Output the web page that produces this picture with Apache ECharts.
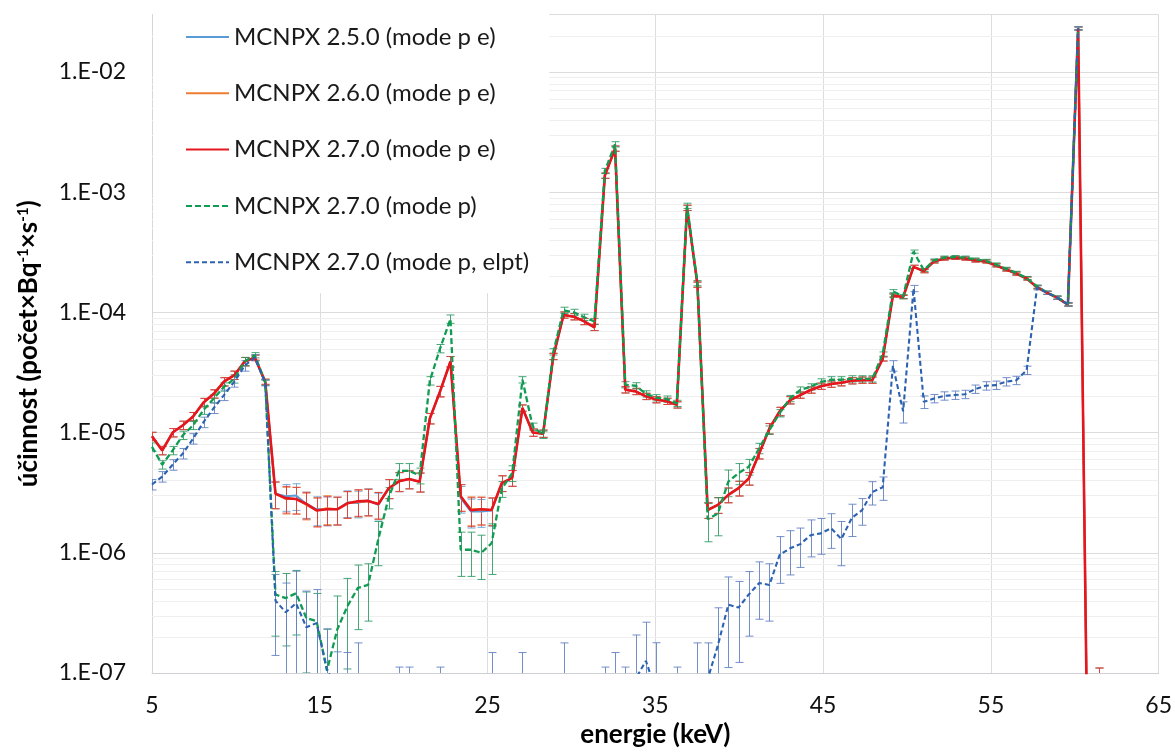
<!DOCTYPE html>
<html>
<head>
<meta charset="utf-8">
<script src="https://cdn.jsdelivr.net/npm/echarts@6/dist/echarts.min.js"></script>
<style>
  html, body { margin: 0; padding: 0; background: #ffffff; }
  #chart { width: 1175px; height: 753px; }
</style>
</head>
<body>
<div id="chart"></div>
<script>
// Photon energy of each tally bin (keV)
const energies = [
  5.00, 5.61, 6.23, 6.84, 7.45, 8.07, 8.68, 9.29, 9.91, 10.52,
  11.13, 11.75, 12.36, 12.97, 13.59, 14.20, 14.81, 15.43, 16.04, 16.65,
  17.27, 17.88, 18.49, 19.11, 19.72, 20.33, 20.95, 21.56, 22.17, 22.79,
  23.40, 24.01, 24.63, 25.24, 25.85, 26.47, 27.08, 27.69, 28.31, 28.92,
  29.53, 30.15, 30.76, 31.37, 31.99, 32.60, 33.21, 33.83, 34.44, 35.05,
  35.67, 36.28, 36.89, 37.51, 38.12, 38.73, 39.35, 39.96, 40.57, 41.19,
  41.80, 42.41, 43.03, 43.64, 44.25, 44.87, 45.48, 46.09, 46.71, 47.32,
  47.93, 48.55, 49.16, 49.77, 50.39, 51.00, 51.61, 52.23, 52.84, 53.45,
  54.07, 54.68, 55.29, 55.91, 56.52, 57.13, 57.75, 58.36, 58.97, 59.59,
  60.20, 60.81, 61.43
];

// Efficiency (counts per Bq per s) for each code version / mode
const mcnpx250pe = [
  9.3e-6, 7.1e-6, 1.0e-5, 1.15e-5, 1.36e-5, 1.78e-5, 2.1e-5, 2.65e-5, 3.0e-5, 3.9e-5,
  4.2e-5, 2.6e-5, 3.1e-6, 2.95e-6, 3.0e-6, 2.55e-6, 2.3e-6, 2.3e-6, 2.3e-6, 2.62e-6,
  2.6e-6, 2.72e-6, 2.5e-6, 3.44e-6, 3.93e-6, 4.1e-6, 3.9e-6, 1.31e-5, 2.2e-5, 3.9e-5,
  2.85e-6, 2.2e-6, 2.2e-6, 2.25e-6, 3.8e-6, 4.2e-6, 1.6e-5, 1.0e-5, 9.8e-6, 4.3e-5,
  9.5e-5, 9.2e-5, 8.4e-5, 7.5e-5, 1.37e-3, 2.3e-3, 2.27e-5, 2.2e-5, 2.0e-5, 1.88e-5,
  1.82e-5, 1.7e-5, 7.4e-4, 1.7e-4, 2.27e-6, 2.5e-6, 3.03e-6, 3.45e-6, 4.15e-6, 6.7e-6,
  1.08e-5, 1.5e-5, 1.86e-5, 2.05e-5, 2.26e-5, 2.43e-5, 2.53e-5, 2.6e-5, 2.7e-5, 2.73e-5,
  2.73e-5, 4.1e-5, 1.38e-4, 1.34e-4, 2.39e-4, 2.2e-4, 2.65e-4, 2.8e-4, 2.84e-4, 2.8e-4,
  2.7e-4, 2.65e-4, 2.46e-4, 2.27e-4, 2.1e-4, 1.91e-4, 1.62e-4, 1.45e-4, 1.32e-4, 1.16e-4,
  2.3e-2, 5e-9, 5e-8
];
const mcnpx260pe = [
  9.3e-6, 7.1e-6, 1.0e-5, 1.15e-5, 1.36e-5, 1.78e-5, 2.1e-5, 2.65e-5, 3.0e-5, 3.9e-5,
  4.2e-5, 2.65e-5, 3.1e-6, 2.8e-6, 2.8e-6, 2.5e-6, 2.25e-6, 2.35e-6, 2.3e-6, 2.58e-6,
  2.65e-6, 2.7e-6, 2.54e-6, 3.44e-6, 3.95e-6, 4.1e-6, 3.9e-6, 1.31e-5, 2.2e-5, 3.9e-5,
  2.95e-6, 2.3e-6, 2.3e-6, 2.27e-6, 3.8e-6, 4.2e-6, 1.6e-5, 1.0e-5, 9.8e-6, 4.3e-5,
  9.5e-5, 9.2e-5, 8.4e-5, 7.5e-5, 1.37e-3, 2.3e-3, 2.27e-5, 2.2e-5, 2.0e-5, 1.88e-5,
  1.82e-5, 1.7e-5, 7.4e-4, 1.7e-4, 2.27e-6, 2.5e-6, 3.03e-6, 3.45e-6, 4.15e-6, 6.7e-6,
  1.08e-5, 1.5e-5, 1.86e-5, 2.05e-5, 2.26e-5, 2.43e-5, 2.53e-5, 2.6e-5, 2.7e-5, 2.73e-5,
  2.73e-5, 4.1e-5, 1.38e-4, 1.34e-4, 2.39e-4, 2.2e-4, 2.65e-4, 2.8e-4, 2.84e-4, 2.8e-4,
  2.7e-4, 2.65e-4, 2.46e-4, 2.27e-4, 2.1e-4, 1.91e-4, 1.62e-4, 1.45e-4, 1.32e-4, 1.16e-4,
  2.3e-2, 5e-9, 5e-8
];
const mcnpx270pe = [
  9.3e-6, 7.1e-6, 1.0e-5, 1.15e-5, 1.36e-5, 1.78e-5, 2.1e-5, 2.65e-5, 3.0e-5, 3.9e-5,
  4.2e-5, 2.65e-5, 3.1e-6, 2.85e-6, 2.8e-6, 2.55e-6, 2.25e-6, 2.3e-6, 2.3e-6, 2.58e-6,
  2.68e-6, 2.7e-6, 2.54e-6, 3.44e-6, 3.93e-6, 4.1e-6, 3.9e-6, 1.31e-5, 2.2e-5, 3.9e-5,
  2.95e-6, 2.26e-6, 2.3e-6, 2.27e-6, 3.8e-6, 4.2e-6, 1.6e-5, 1.0e-5, 9.8e-6, 4.3e-5,
  9.5e-5, 9.2e-5, 8.4e-5, 7.5e-5, 1.37e-3, 2.3e-3, 2.27e-5, 2.2e-5, 2.0e-5, 1.88e-5,
  1.82e-5, 1.7e-5, 7.4e-4, 1.7e-4, 2.27e-6, 2.5e-6, 3.03e-6, 3.45e-6, 4.15e-6, 6.7e-6,
  1.08e-5, 1.5e-5, 1.86e-5, 2.05e-5, 2.26e-5, 2.43e-5, 2.53e-5, 2.6e-5, 2.7e-5, 2.73e-5,
  2.73e-5, 4.1e-5, 1.38e-4, 1.34e-4, 2.39e-4, 2.2e-4, 2.65e-4, 2.8e-4, 2.84e-4, 2.8e-4,
  2.7e-4, 2.65e-4, 2.46e-4, 2.27e-4, 2.1e-4, 1.91e-4, 1.62e-4, 1.45e-4, 1.32e-4, 1.16e-4,
  2.3e-2, 5e-9, 5e-8
];
const mcnpx270p = [
  7.6e-6, 5.4e-6, 7.1e-6, 9.5e-6, 1.15e-5, 1.54e-5, 1.92e-5, 2.4e-5, 2.8e-5, 3.9e-5,
  4.4e-5, 2.6e-5, 4.5e-7, 4.2e-7, 4.6e-7, 2.86e-7, 2.7e-7, 1.05e-7, 2.3e-7, 3.6e-7,
  5.1e-7, 5.4e-7, 1.3e-6, 2.9e-6, 4.8e-6, 4.8e-6, 4.4e-6, 2.7e-5, 5.0e-5, 8.8e-5,
  1.06e-6, 1.06e-6, 1.0e-6, 1.2e-6, 3.4e-6, 4.6e-6, 2.75e-5, 1.12e-5, 9.6e-6, 4.7e-5,
  1.04e-4, 1.0e-4, 9.1e-5, 8.4e-5, 1.5e-3, 2.5e-3, 2.5e-5, 2.45e-5, 2.1e-5, 1.95e-5,
  1.9e-5, 1.75e-5, 7.7e-4, 1.75e-4, 1.9e-6, 2.13e-6, 3.9e-6, 4.6e-6, 5.2e-6, 7.4e-6,
  1.05e-5, 1.45e-5, 1.92e-5, 2.26e-5, 2.4e-5, 2.64e-5, 2.75e-5, 2.75e-5, 2.8e-5, 2.8e-5,
  2.8e-5, 4.5e-5, 1.5e-4, 1.35e-4, 3.2e-4, 2.25e-4, 2.7e-4, 2.85e-4, 2.88e-4, 2.85e-4,
  2.75e-4, 2.68e-4, 2.5e-4, 2.3e-4, 2.13e-4, 1.93e-4, 1.64e-4, 1.46e-4, 1.33e-4, 1.17e-4,
  2.3e-2
];
const mcnpx270pElpt = [
  3.7e-6, 4.3e-6, 5.4e-6, 6.7e-6, 8.9e-6, 1.22e-5, 1.6e-5, 2.05e-5, 2.65e-5, 3.6e-5,
  4.2e-5, 2.6e-5, 4.0e-7, 3.2e-7, 3.8e-7, 2.4e-7, 2.6e-7, 1.06e-7, 7.5e-8, 7.4e-8,
  8.9e-8, 2e-8, 2e-8, 2e-8, 5.6e-8, 5.6e-8, 2e-8, 2e-8, 5.6e-8, 2e-8,
  2e-8, 2e-8, 2e-8, 7.4e-8, 2e-8, 2e-8, 7.4e-8, 2e-8, 2e-8, 2e-8,
  8.9e-8, 2e-8, 2e-8, 2e-8, 5.6e-8, 7.4e-8, 5.6e-8, 9.0e-8, 1.26e-7, 7e-8,
  2e-8, 5.6e-8, 2e-8, 8.9e-8, 8.9e-8, 1.7e-7, 3.7e-7, 3.5e-7, 4.5e-7, 5.6e-7,
  5.4e-7, 9.6e-7, 1.09e-6, 1.18e-6, 1.4e-6, 1.45e-6, 1.6e-6, 1.3e-6, 1.95e-6, 2.26e-6,
  3.2e-6, 3.5e-6, 3.6e-5, 1.5e-5, 1.58e-4, 1.8e-5, 1.92e-5, 2.02e-5, 2.05e-5, 2.08e-5,
  2.3e-5, 2.45e-5, 2.48e-5, 2.65e-5, 2.72e-5, 3.3e-5, 1.6e-4, 1.45e-4, 1.32e-4, 1.16e-4,
  2.3e-2
];

// Relative statistical uncertainty (1 sigma) of each tally bin
const relErrPE = [
  0.08, 0.08, 0.08, 0.08, 0.08, 0.08, 0.08, 0.08, 0.08, 0.08,
  0.05, 0.05, 0.25, 0.25, 0.25, 0.25, 0.27, 0.27, 0.26, 0.25,
  0.25, 0.25, 0.25, 0.18, 0.18, 0.17, 0.18, 0.10, 0.10, 0.10,
  0.25, 0.27, 0.26, 0.26, 0.15, 0.15, 0.06, 0.07, 0.07, 0.06,
  0.06, 0.06, 0.06, 0.06, 0.05, 0.05, 0.06, 0.06, 0.06, 0.06,
  0.06, 0.06, 0.05, 0.05, 0.15, 0.15, 0.14, 0.14, 0.12, 0.10,
  0.10, 0.08, 0.07, 0.06, 0.06, 0.06, 0.06, 0.06, 0.06, 0.06,
  0.06, 0.04, 0.03, 0.03, 0.03, 0.03, 0.03, 0.03, 0.03, 0.03,
  0.03, 0.03, 0.03, 0.03, 0.03, 0.03, 0.03, 0.03, 0.03, 0.03,
  0.03, 1.0, 1.2
];
const relErrP = [
  0.08, 0.08, 0.08, 0.08, 0.08, 0.08, 0.08, 0.08, 0.08, 0.08,
  0.05, 0.05, 0.55, 0.60, 0.55, 0.65, 0.70, 1.20, 0.90, 0.70,
  0.55, 0.50, 0.40, 0.20, 0.15, 0.15, 0.15, 0.08, 0.08, 0.08,
  0.40, 0.40, 0.40, 0.45, 0.15, 0.15, 0.06, 0.07, 0.07, 0.06,
  0.06, 0.06, 0.06, 0.06, 0.05, 0.05, 0.06, 0.06, 0.06, 0.06,
  0.06, 0.06, 0.05, 0.05, 0.35, 0.35, 0.25, 0.20, 0.15, 0.10,
  0.08, 0.07, 0.06, 0.06, 0.06, 0.06, 0.06, 0.06, 0.06, 0.06,
  0.06, 0.04, 0.03, 0.04, 0.03, 0.03, 0.03, 0.03, 0.03, 0.03,
  0.03, 0.03, 0.03, 0.03, 0.03, 0.03, 0.03, 0.03, 0.03, 0.03,
  0.03
];
const relErrElpt = [
  0.10, 0.10, 0.10, 0.10, 0.10, 0.10, 0.10, 0.10, 0.10, 0.10,
  0.06, 0.06, 0.65, 0.75, 0.85, 1.00, 0.90, 1.20, 1.00, 1.00,
  1.00, 1.00, 1.00, 1.00, 1.00, 1.00, 1.00, 1.00, 1.00, 1.00,
  1.00, 1.00, 1.00, 1.00, 1.00, 1.00, 1.00, 1.00, 1.00, 1.00,
  1.00, 1.00, 1.00, 1.00, 1.00, 1.00, 1.00, 1.30, 1.10, 1.55,
  1.00, 1.00, 1.00, 1.00, 1.00, 1.05, 0.70, 0.65, 0.55, 0.50,
  0.50, 0.42, 0.40, 0.36, 0.34, 0.33, 0.32, 0.40, 0.30, 0.25,
  0.22, 0.22, 0.10, 0.20, 0.06, 0.12, 0.08, 0.08, 0.08, 0.08,
  0.08, 0.08, 0.08, 0.08, 0.08, 0.08, 0.04, 0.03, 0.03, 0.03,
  0.03
];

const seriesNames = [
  'MCNPX 2.5.0 (mode p e)',
  'MCNPX 2.6.0 (mode p e)',
  'MCNPX 2.7.0 (mode p e)',
  'MCNPX 2.7.0 (mode p)',
  'MCNPX 2.7.0 (mode p, elpt)'
];

const Y_MIN = 1e-7;
const Y_MAX = 0.03;
const FONT = 'Lato, "Open Sans", "Liberation Sans", sans-serif';

function pairs(values) {
  return values.map((v, i) => [energies[i], v]);
}
function errTriples(values, rel) {
  return values.map((v, i) => [energies[i], v, v * rel[i]]);
}

// Vertical error bar with caps, clipped to the plotting area
function errorBarRenderer(color) {
  return function (params, api) {
    const x = api.value(0), v = api.value(1), s = api.value(2);
    const cs = params.coordSys;
    const top = cs.y, bottom = cs.y + cs.height;
    const hi = v + s, lo = v - s;
    if (!(hi > Y_MIN)) return null;
    const pHi = api.coord([x, hi]);
    const px = Math.round(pHi[0]) + 0.5;
    const yHi = pHi[1];
    const loInside = lo > Y_MIN;
    const yLo = loInside ? api.coord([x, lo])[1] : bottom;
    const style = { stroke: color, lineWidth: 1, fill: null };
    const half = 4;
    const children = [{
      type: 'line',
      shape: { x1: px, y1: Math.max(yHi, top), x2: px, y2: Math.min(yLo, bottom) },
      style: style
    }];
    if (yHi >= top && yHi <= bottom) {
      children.push({ type: 'line', shape: { x1: px - half, y1: yHi, x2: px + half, y2: yHi }, style: style });
    }
    if (loInside && yLo <= bottom) {
      children.push({ type: 'line', shape: { x1: px - half, y1: yLo, x2: px + half, y2: yLo }, style: style });
    }
    return { type: 'group', children: children };
  };
}

// Minor log gridlines at 2..9 x 10^n
const minorLevels = [];
for (let d = -7; d <= -2; d++) {
  for (let k = 2; k <= 9; k++) {
    const val = k * Math.pow(10, d);
    if (val < Y_MAX * 0.999) minorLevels.push([5, val]);
  }
}

const lineDefs = [
  { name: seriesNames[0], data: mcnpx250pe, rel: relErrPE, color: '#5b9bd5', err: 'rgba(91,155,213,0.85)', width: 2, type: 'solid' },
  { name: seriesNames[1], data: mcnpx260pe, rel: relErrPE, color: '#ed7d31', err: 'rgba(237,125,49,0.85)', width: 2, type: 'solid' },
  { name: seriesNames[2], data: mcnpx270pe, rel: relErrPE, color: '#e5161e', err: 'rgba(220,60,60,0.85)', width: 2.6, type: 'solid' },
  { name: seriesNames[3], data: mcnpx270p, rel: relErrP, color: '#109c52', err: 'rgba(40,150,95,0.85)', width: 2.3, type: [6, 3] },
  { name: seriesNames[4], data: mcnpx270pElpt, rel: relErrElpt, color: '#2c62b0', err: 'rgba(100,130,195,0.9)', width: 2.1, type: [5, 3] }
];

const series = [{
  type: 'custom',
  name: 'minor-grid',
  z: 1,
  silent: true,
  clip: false,
  data: minorLevels,
  encode: { x: 0, y: 1 },
  renderItem: function (params, api) {
    const cs = params.coordSys;
    const y = Math.round(api.coord([api.value(0), api.value(1)])[1]) + 0.5;
    return {
      type: 'line',
      shape: { x1: cs.x, y1: y, x2: cs.x + cs.width, y2: y },
      style: { stroke: '#efefef', lineWidth: 1 }
    };
  }
}];

lineDefs.forEach(function (d) {
  series.push({
    type: 'line',
    name: d.name,
    data: pairs(d.data),
    symbol: 'none',
    showSymbol: false,
    clip: true,
    z: 2,
    lineStyle: { color: d.color, width: d.width, type: d.type },
    itemStyle: { color: d.color },
    emphasis: { disabled: true },
    animation: false
  });
  series.push({
    type: 'custom',
    name: d.name + ' σ',
    z: 2,
    silent: true,
    clip: true,
    data: errTriples(d.data, d.rel),
    encode: { x: 0, y: 1 },
    renderItem: errorBarRenderer(d.err),
    animation: false
  });
});

function decadeLabel(v) {
  const e = Math.round(Math.log10(v));
  if (Math.abs(v / Math.pow(10, e) - 1) > 1e-6) return '';
  const n = Math.abs(e);
  return '1.E' + (e < 0 ? '-' : '+') + (n < 10 ? '0' + n : String(n));
}

const chart = echarts.init(document.getElementById('chart'), null, { renderer: 'canvas' });
chart.setOption({
  animation: false,
  backgroundColor: '#ffffff',
  textStyle: { fontFamily: FONT },
  grid: { left: 152, right: 15, top: 14.5, bottom: 78 },
  legend: {
    data: seriesNames,
    orient: 'vertical',
    left: 153,
    top: 14,
    padding: [9, 20, 17, 32],
    backgroundColor: '#ffffff',
    itemWidth: 43,
    itemHeight: 14,
    itemGap: 28.3,
    selectedMode: false,
    itemStyle: { opacity: 0, borderWidth: 0 },
    textStyle: { fontFamily: FONT, fontSize: 24, color: '#1a1a1a', lineHeight: 28 }
  },
  xAxis: {
    type: 'value',
    min: 5,
    max: 65,
    interval: 10,
    axisLine: { show: true, lineStyle: { color: '#cfcfd6', width: 1 } },
    axisTick: { show: false },
    splitLine: { show: true, lineStyle: { color: '#dcdcdc', width: 1 } },
    axisLabel: { fontFamily: FONT, fontSize: 23, color: '#111111', margin: 21 },
    name: 'energie (keV)',
    nameLocation: 'middle',
    nameGap: 49,
    nameTextStyle: { fontFamily: FONT, fontWeight: 'bold', fontSize: 26, color: '#000000' }
  },
  yAxis: {
    type: 'log',
    logBase: 10,
    min: Y_MIN,
    max: Y_MAX,
    axisLine: { show: true, lineStyle: { color: '#d6d6d6', width: 1 } },
    axisTick: { show: false },
    splitLine: { show: true, lineStyle: { color: '#dcdcdc', width: 1 } },
    axisLabel: { fontFamily: FONT, fontSize: 23, color: '#111111', margin: 26, formatter: decadeLabel },
    name: '{t|účinnost (počet×Bq}{s|-1}{t|×s}{s|-1}{t|)}',
    nameLocation: 'middle',
    nameRotate: 90,
    nameGap: 108,
    nameTextStyle: {
      rich: {
        t: { fontFamily: FONT, fontWeight: 'bold', fontSize: 26, color: '#000000', lineHeight: 30 },
        s: { fontFamily: FONT, fontWeight: 'bold', fontSize: 15, color: '#000000', lineHeight: 30, verticalAlign: 'top', padding: [2, 0, 0, 0] }
      }
    }
  },
  series: series
});
</script>
</body>
</html>
